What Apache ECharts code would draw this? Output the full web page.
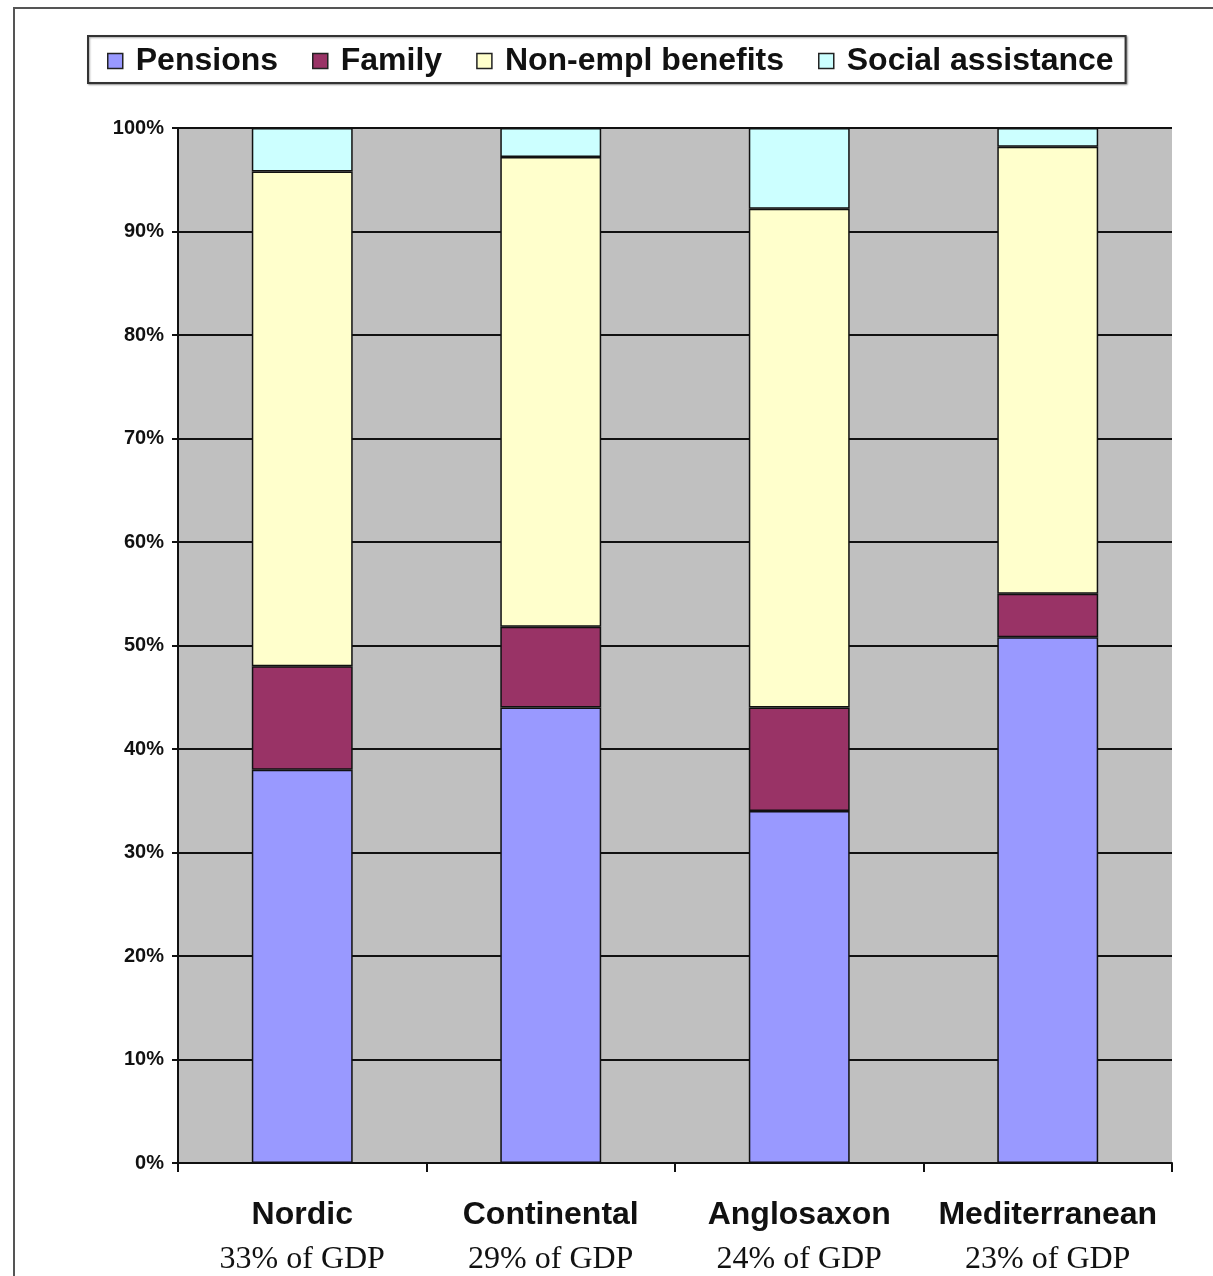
<!DOCTYPE html>
<html>
<head>
<meta charset="utf-8">
<script src="https://cdn.jsdelivr.net/npm/echarts@6/dist/echarts.min.js"></script>
<style>
html,body{margin:0;padding:0;background:#fff;}
#c{width:1213px;height:1276px;}
</style>
</head>
<body>
<div id="c"></div>
<script>
const categories = ['Nordic', 'Continental', 'Anglosaxon', 'Mediterranean'];
const gdpShares = ['33% of GDP', '29% of GDP', '24% of GDP', '23% of GDP'];
const seriesNames = ['Pensions', 'Family', 'Non-empl benefits', 'Social assistance'];
const pensions = [38, 44, 34, 50.8];
const family = [10, 7.8, 10, 4.2];
const nonEmpl = [47.8, 45.4, 48.2, 43.2];
const socialAssistance = [4.2, 2.8, 7.8, 1.8];
const yTicks = [0, 10, 20, 30, 40, 50, 60, 70, 80, 90, 100];

const colors = ['#9999FF', '#993366', '#FFFFCC', '#CCFFFF'];
const values = [pensions, family, nonEmpl, socialAssistance];

const chart = echarts.init(document.getElementById('c'), null, {renderer: 'canvas'});
chart.setOption({
  animation: false,
  backgroundColor: '#ffffff',
  graphic: [{
    type: 'rect',
    shape: {x: 14, y: 8, width: 1400, height: 1400},
    style: {fill: 'none', stroke: '#555', lineWidth: 2},
    z: -10
  }],
  legend: {
    left: 88, top: 36,
    padding: [9, 12, 6, 19],
    backgroundColor: '#fff',
    borderColor: '#333',
    borderWidth: 2,
    shadowColor: 'rgba(0,0,0,0.35)',
    shadowBlur: 2, shadowOffsetX: 1, shadowOffsetY: 1,
    itemWidth: 15, itemHeight: 15,
    itemGap: 34,
    icon: 'rect',
    itemStyle: {borderColor: '#222', borderWidth: 1.5},
    textStyle: {fontFamily: 'Liberation Sans, Arial, sans-serif', fontWeight: 'bold', fontSize: 32, color: '#111', padding: [0, 0, 0, 8]},
    data: seriesNames
  },
  grid: {left: 178, right: 41, top: 128, bottom: 113, show: true, backgroundColor: '#C0C0C0', borderWidth: 0},
  xAxis: {
    type: 'category',
    data: categories,
    axisLine: {lineStyle: {color: '#111', width: 2}},
    axisTick: {show: true, length: 9, lineStyle: {color: '#111', width: 2}},
    axisLabel: {
      margin: 30,
      formatter: function (v, i) { return '{a|' + v + '}\n{b|' + gdpShares[i] + '}'; },
      rich: {
        a: {fontFamily: 'Liberation Sans, Arial, sans-serif', fontWeight: 'bold', fontSize: 32, color: '#111', lineHeight: 44},
        b: {fontFamily: 'Liberation Serif, Times New Roman, serif', fontSize: 32, color: '#111', lineHeight: 46}
      }
    }
  },
  yAxis: {
    type: 'value', min: 0, max: 100, interval: 10,
    axisLine: {show: true, lineStyle: {color: '#111', width: 2}},
    axisTick: {show: true, length: 6, lineStyle: {color: '#111', width: 2}},
    splitLine: {show: true, lineStyle: {color: '#111', width: 1.8}},
    axisLabel: {
      margin: 14,
      formatter: '{value}%',
      fontFamily: 'Liberation Sans, Arial, sans-serif', fontWeight: 'bold', fontSize: 20, color: '#111'
    }
  },
  series: seriesNames.map((n, i) => ({
    name: n,
    type: 'bar',
    stack: 'total',
    barWidth: '40.6%',
    data: values[i],
    itemStyle: {color: colors[i], borderColor: '#111', borderWidth: 1.5}
  }))
});
</script>
</body>
</html>
